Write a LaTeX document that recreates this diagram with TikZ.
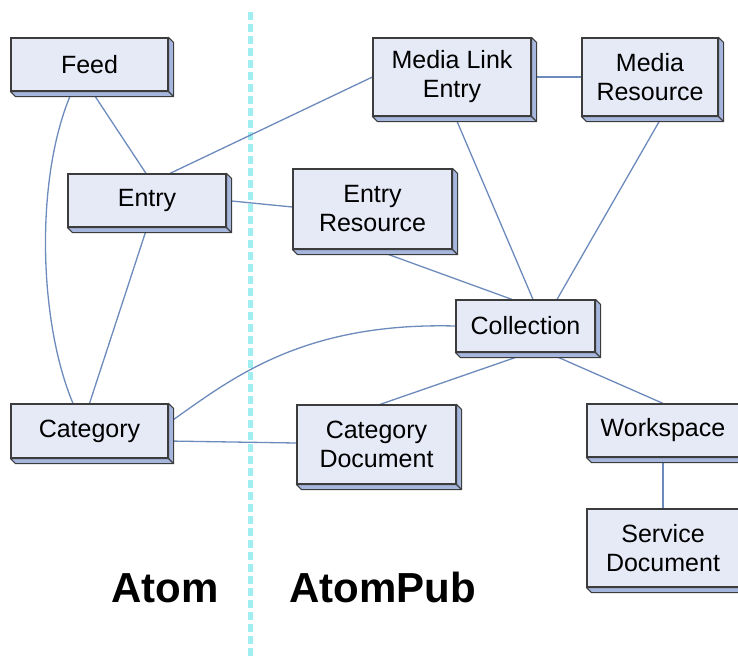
\documentclass[tikz,border=0pt]{standalone}
\usepackage{fontspec}
\setmainfont{Liberation Sans}
\usetikzlibrary{calc}
\pgfdeclarelayer{background}
\pgfsetlayers{background,main}
\definecolor{facefill}{RGB}{230,234,247}
\definecolor{sidefill}{RGB}{166,182,220}
\definecolor{edgegray}{RGB}{60,60,60}
\definecolor{linkblue}{RGB}{108,138,188}
\definecolor{dashcyan}{RGB}{160,238,240}
\tikzset{
  ent/.style={draw=edgegray, line width=1.2pt, fill=facefill, inner sep=0pt,
    align=center, font=\fontsize{25}{29}\selectfont},
  sidepart/.style={fill=sidefill, draw=edgegray, line width=1.1pt, line join=round},
  link/.style={draw=linkblue, line width=1.3pt},
  divider/.style={draw=dashcyan, line width=5pt, dash pattern=on 8pt off 4pt},
  title/.style={font=\fontsize{42}{48}\selectfont\bfseries, anchor=base, inner sep=0pt}
}
\newcommand\boxdepth[1]{%
  \filldraw[sidepart] (#1.north east) -- ++(5pt,-5pt) -- ([shift={(5pt,-5pt)}]#1.south east)
    -- ([shift={(5pt,-5pt)}]#1.south west) -- (#1.south west) -- (#1.south east) -- cycle;
  \draw[sidepart] (#1.south east) -- ++(5pt,-5pt);}
\begin{document}
\begin{tikzpicture}[x=1pt,y=-1pt]
\useasboundingbox (0,0) rectangle (738,657);
\clip (0,0) rectangle (738,657);
% nodes
\node[ent, minimum width=157, minimum height=53] (feed) at (89.5,64.5) {Feed};
\node[ent, minimum width=158, minimum height=53] (entry) at (147,200.5) {Entry};
\node[ent, minimum width=157, minimum height=54] (cat) at (89.5,431) {Category};
\node[ent, minimum width=158, minimum height=78] (mle) at (452,77) {Media Link\\Entry};
\node[ent, minimum width=136, minimum height=78] (mr) at (650,77) {Media\\Resource};
\node[ent, minimum width=159, minimum height=80] (er) at (372.5,209) {Entry\\Resource};
\node[ent, minimum width=139, minimum height=52] (coll) at (525.5,326) {Collection};
\node[ent, minimum width=159, minimum height=79] (cd) at (376.5,444.5) {Category\\Document};
\node[ent, minimum width=152, minimum height=53] (ws) at (663,430.5) {Workspace};
\node[ent, minimum width=152, minimum height=78] (sd) at (663,548) {Service\\Document};
\foreach \n in {feed,entry,cat,mle,mr,er,coll,cd,ws,sd} {\boxdepth{\n}}
% titles
\node[title] (atom) at (165,602) {Atom};
\node[title] (atompub) at (382.5,602) {AtomPub};
% connectors
\begin{pgfonlayer}{background}
\coordinate (dtop) at (250,12);
\coordinate (dbot) at (250,660);
\draw[divider] (dtop) -- (dbot);
\draw[link] ([xshift=2.5pt]feed.south) -- ([xshift=-1pt]entry.north);
\draw[link] ([xshift=-17.5pt]feed.south) .. controls (35,175) and (38,320) .. ([xshift=-16.5pt]cat.north);
\draw[link] (entry.south) -- (cat.north);
\draw[link] ([xshift=23pt]entry.north) -- (mle.west);
\draw[link] (entry.east) -- ([yshift=2pt]er.west);
\draw[link] (mle.east) -- (mr.west);
\draw[link] ([xshift=3pt]mle.south) -- ([xshift=7.5pt]coll.north);
\draw[link] ([xshift=12pt]mr.south) -- ([xshift=31.5pt]coll.north);
\draw[link] ([xshift=2.5pt]er.south) -- ([xshift=-13.5pt]coll.north);
\draw[link] (coll.west) .. controls (300,322) and (230,380) .. ([yshift=8pt]cat.east);
\draw[link] ([xshift=4pt]coll.south) -- ([xshift=3.5pt]cd.north);
\draw[link] ([xshift=22pt]coll.south) -- (ws.north);
\draw[link] ([yshift=-10pt]cat.east) -- ([yshift=1.5pt]cd.west);
\draw[link] (ws.south) -- (sd.north);
\end{pgfonlayer}
\end{tikzpicture}
\end{document}
